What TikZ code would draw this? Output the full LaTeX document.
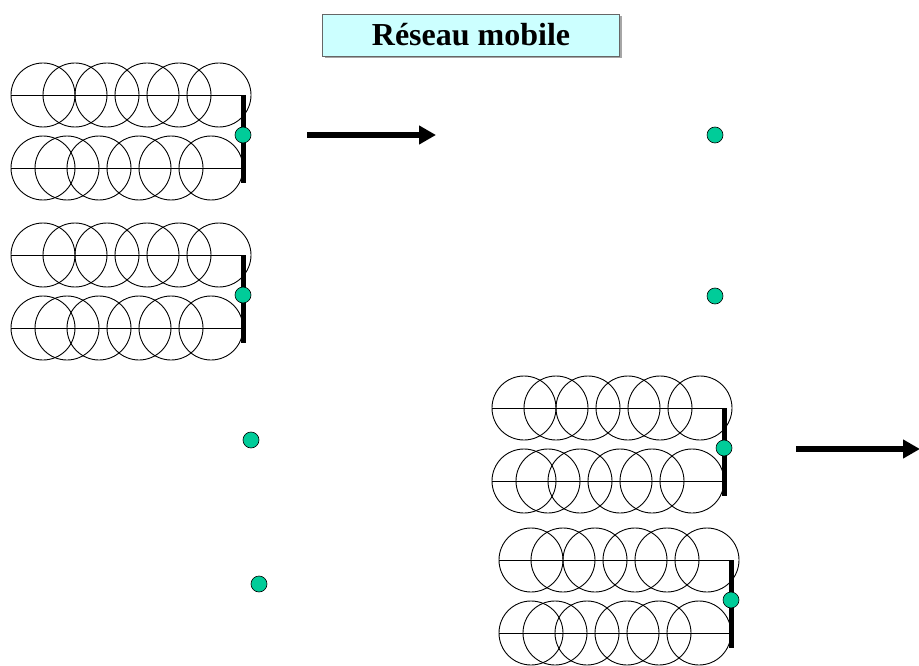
\documentclass[tikz,border=0pt]{standalone}
\usepackage{fontspec}
\setmainfont{Liberation Serif}
\usetikzlibrary{arrows.meta}
\definecolor{dotgreen}{RGB}{0,204,153}
\definecolor{titlefill}{RGB}{204,255,255}
\tikzset{
  ring/.style={draw=black, line width=0.9pt},
  axisline/.style={draw=black, line width=0.9pt},
  bar/.style={draw=black, line width=5pt},
  station/.style={circle, draw=black, line width=0.6pt, fill=dotgreen, minimum size=16pt, inner sep=0pt},
  bigarrow/.style={draw=black, line width=5.5pt, -{Triangle[length=17pt,width=18pt]}},
}
\newcommand{\sweepgroup}[3]{%
  \begin{scope}[shift={(#1,#2)}]
    \foreach \cx in {32,64,96,136,168,208} {\draw[ring] (\cx,0) circle[radius=32pt];}
    \foreach \cx in {32,56,88,128,160,200} {\draw[ring] (\cx,73) circle[radius=32pt];}
    \draw[axisline] (0,0) -- (232,0);
    \draw[axisline] (0,73) -- (232,73);
    \draw[bar] (232,0) -- (232,88);
    \node[station] (#3) at (232,40) {};
  \end{scope}}
\begin{document}
\begin{tikzpicture}[x=1pt,y=-1pt]
\useasboundingbox (0,0) rectangle (919,666);
% title
\fill[gray!70] (325,16) rectangle (622,58);
\node[draw=gray!80!black, line width=0.8pt, fill=titlefill, minimum width=297pt, minimum height=42pt, inner sep=0pt, font=\bfseries\fontsize{32}{36}\selectfont] (title) at (471,35) {Réseau mobile};
% groups
\sweepgroup{11}{95}{g1}
\sweepgroup{11}{255}{g2}
\sweepgroup{492}{408}{g3}
\sweepgroup{499}{560}{g4}
% isolated stations
\node[station] (s1) at (715,135) {};
\node[station] (s2) at (715,296) {};
\node[station] (s3) at (251,440) {};
\node[station] (s4) at (259,584) {};
% arrows
\coordinate (a1s) at (307,135);
\coordinate (a1e) at (436,135);
\coordinate (a2s) at (796,449);
\coordinate (a2e) at (920,449);
\draw[bigarrow] (a1s) -- (a1e);
\draw[bigarrow] (a2s) -- (a2e);
\end{tikzpicture}
\end{document}
